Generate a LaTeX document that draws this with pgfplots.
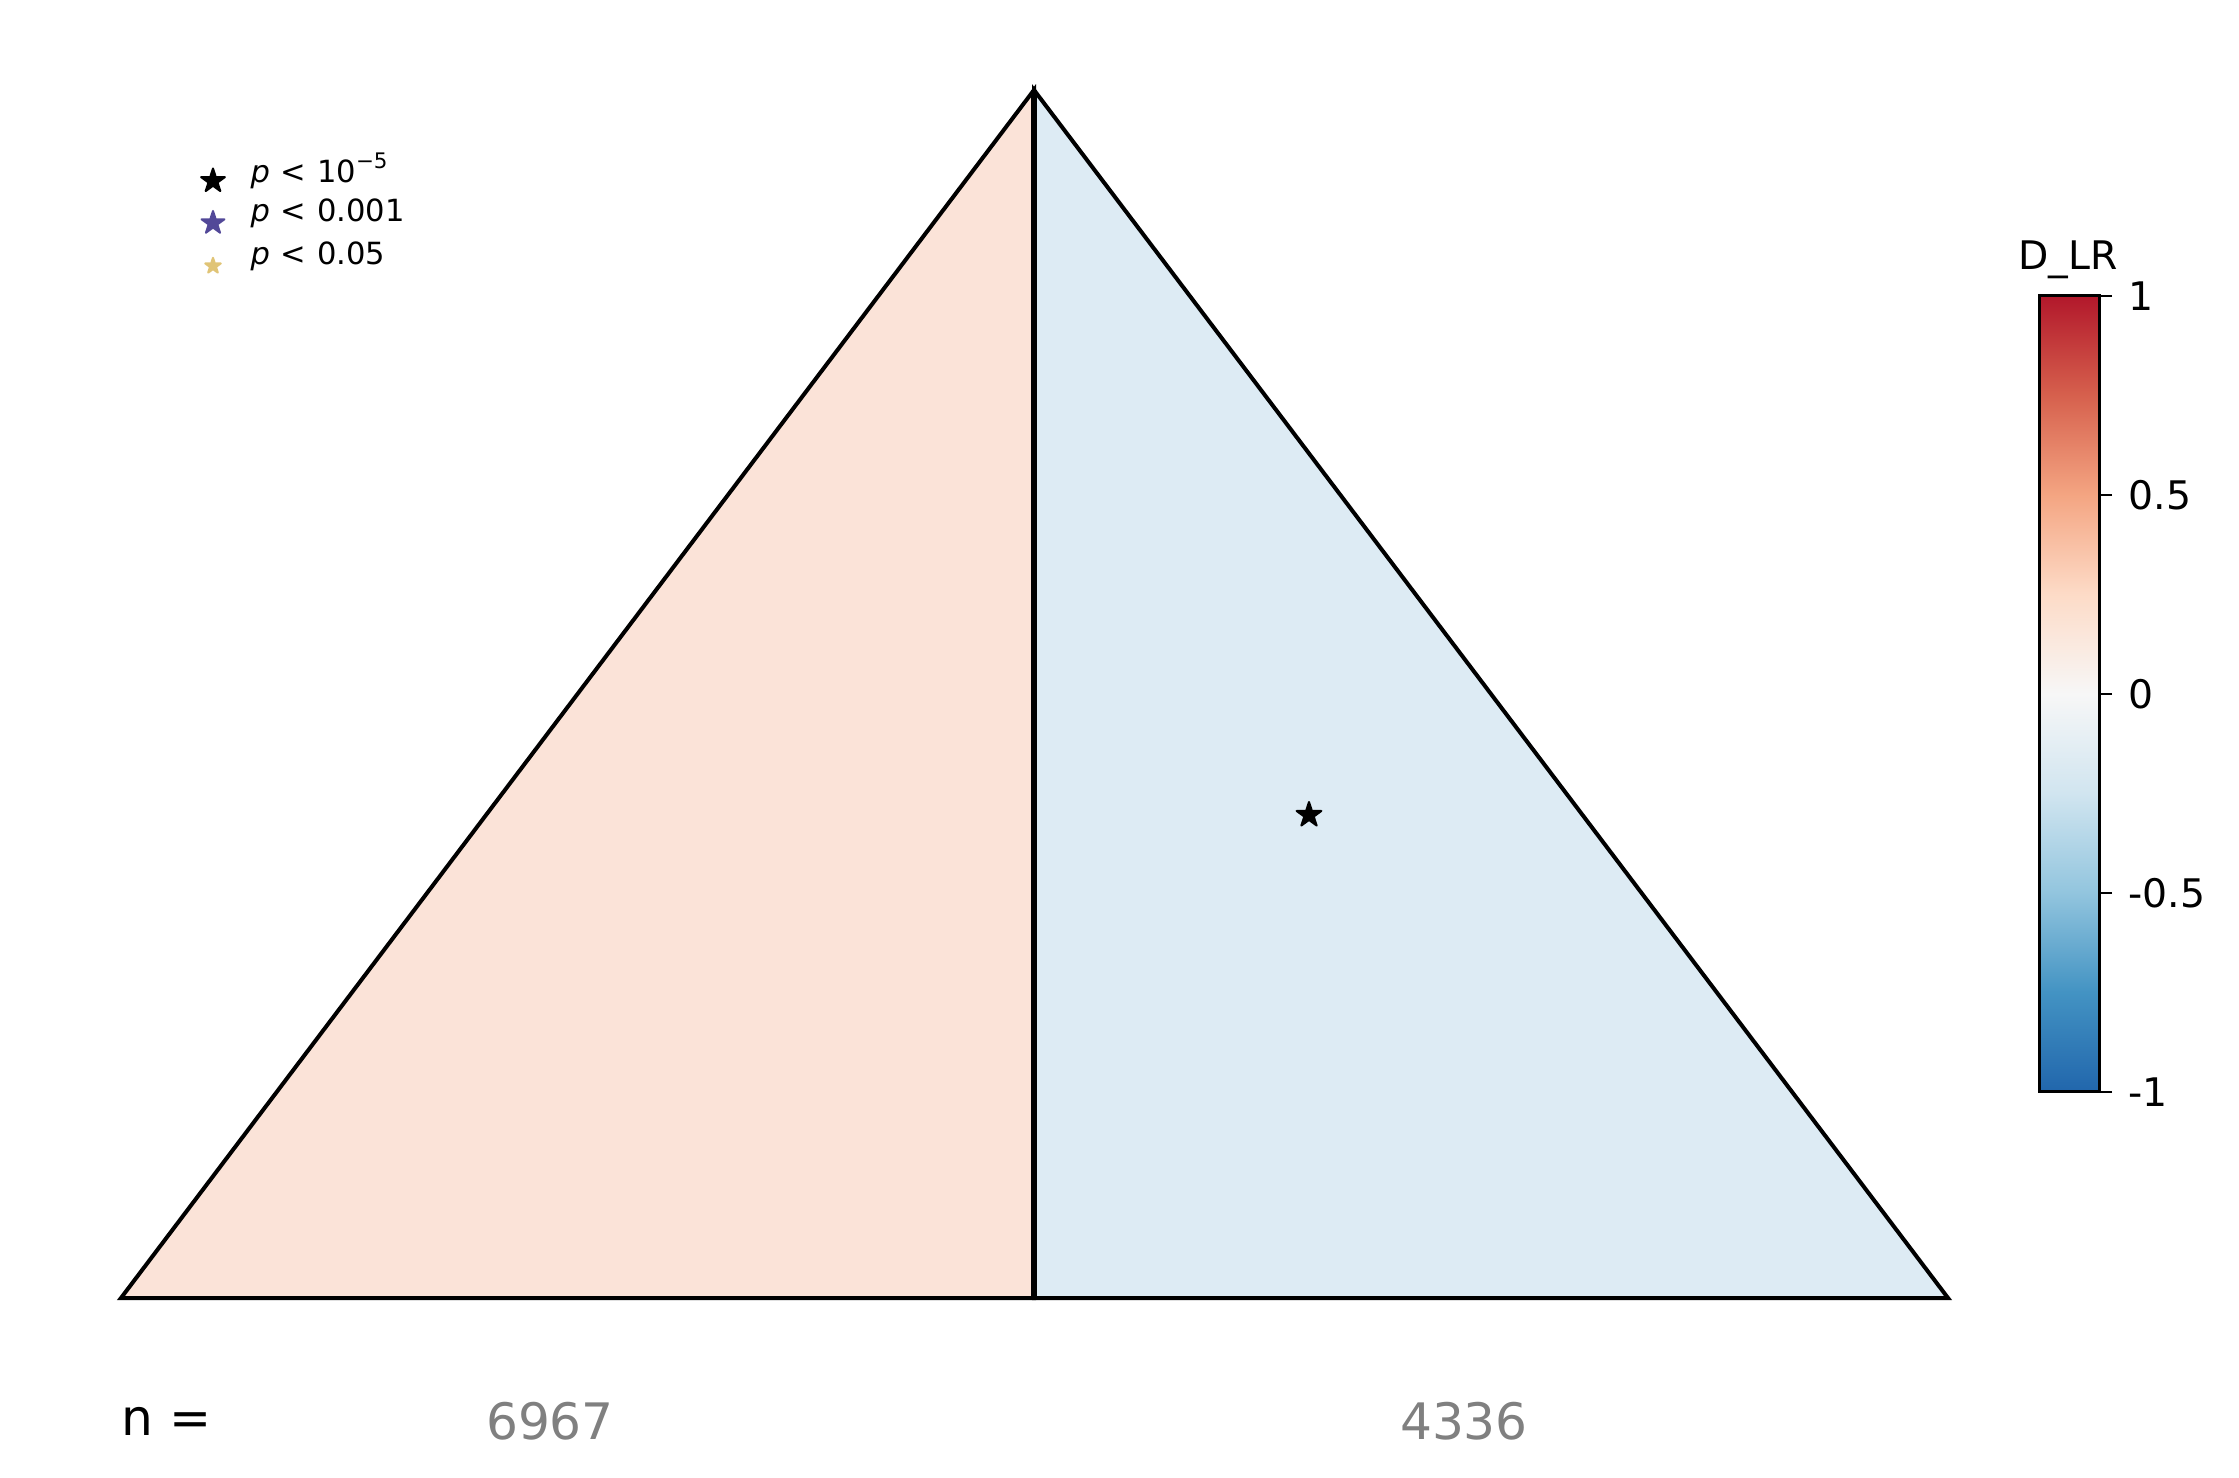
\documentclass[border=0pt]{standalone}
\usepackage{fontspec}
\setmainfont{DejaVu Sans}
\usepackage{pgfplots}
\pgfplotsset{compat=1.18}
\definecolor{leftfill}{RGB}{251,227,216}
\definecolor{rightfill}{RGB}{221,235,244}
\definecolor{pstar}{RGB}{82,72,152}
\definecolor{tstar}{RGB}{224,196,118}
\definecolor{ngray}{RGB}{128,128,128}
\pgfplotsset{colormap={rdbu}{rgb255=(33,102,172) rgb255=(67,147,195) rgb255=(146,197,222) rgb255=(209,229,240) rgb255=(247,247,247) rgb255=(253,219,199) rgb255=(244,165,130) rgb255=(214,96,77) rgb255=(178,24,43)}}
\pgfdeclareplotmark{fstar}{%
  \pgfpathmoveto{\pgfpointpolar{90}{\pgfplotmarksize}}%
  \pgfpathlineto{\pgfpointpolar{126}{0.382\pgfplotmarksize}}%
  \pgfpathlineto{\pgfpointpolar{162}{\pgfplotmarksize}}%
  \pgfpathlineto{\pgfpointpolar{198}{0.382\pgfplotmarksize}}%
  \pgfpathlineto{\pgfpointpolar{234}{\pgfplotmarksize}}%
  \pgfpathlineto{\pgfpointpolar{270}{0.382\pgfplotmarksize}}%
  \pgfpathlineto{\pgfpointpolar{306}{\pgfplotmarksize}}%
  \pgfpathlineto{\pgfpointpolar{342}{0.382\pgfplotmarksize}}%
  \pgfpathlineto{\pgfpointpolar{18}{\pgfplotmarksize}}%
  \pgfpathlineto{\pgfpointpolar{54}{0.382\pgfplotmarksize}}%
  \pgfpathclose\pgfusepathqfillstroke}
\newcommand{\legfont}{\fontsize{8.7}{10}\selectfont}
\begin{document}
\begin{tikzpicture}
\begin{axis}[at={(0,0)}, anchor=south west, scale only axis,
  width=22.39cm, height=14.78cm,
  xmin=0, xmax=2239, ymin=0, ymax=1478, y dir=reverse,
  hide axis, clip=false]
\path[draw=none] (rel axis cs:0,0) rectangle (rel axis cs:1,1);
% left region
\addplot[fill=leftfill, draw=black, line width=0.4mm, line join=miter] coordinates {(121,1298) (1034,90) (1034,1298)} -- cycle;
% right region
\addplot[fill=rightfill, draw=black, line width=0.4mm, line join=miter] coordinates {(1034,1298) (1034,90) (1948,1298)} -- cycle;
% dividing line
\addplot[draw=black, line width=0.6mm] coordinates {(1034,90) (1034,1298)};
% significance star
\addplot[only marks, mark=fstar, mark size=1.3mm, mark options={fill=black, draw=black, line width=0.2mm, line join=round}] coordinates {(1309,815)};
% legend stars
\addplot[only marks, mark=fstar, mark size=1.25mm, mark options={fill=black, draw=black, line width=0.2mm, line join=round}] coordinates {(213,181)};
\addplot[only marks, mark=fstar, mark size=1.2mm, mark options={fill=pstar, draw=pstar, line width=0.2mm, line join=round}] coordinates {(213,223)};
\addplot[only marks, mark=fstar, mark size=0.82mm, mark options={fill=tstar, draw=tstar, line width=0.2mm, line join=round}] coordinates {(213,266)};
\node[anchor=west, font=\legfont, inner sep=0pt] at (axis cs:250,171) {\textit{p}\hspace{0.35em}<\hspace{0.35em}10\textsuperscript{−5}};
\node[anchor=west, font=\legfont, inner sep=0pt] at (axis cs:250,213) {\textit{p}\hspace{0.35em}<\hspace{0.35em}0.001};
\node[anchor=west, font=\legfont, inner sep=0pt] at (axis cs:250,256) {\textit{p}\hspace{0.35em}<\hspace{0.35em}0.05};
% n labels
\node[anchor=west, font=\fontsize{14.3}{17}\selectfont, inner sep=0pt] at (axis cs:121,1421) {n =};
\node[font=\fontsize{14.3}{17}\selectfont, text=ngray, inner sep=0pt] at (axis cs:550,1421) {6967};
\node[font=\fontsize{14.3}{17}\selectfont, text=ngray, inner sep=0pt] at (axis cs:1464,1421) {4336};
% colorbar title
\node[font=\fontsize{11.2}{13}\selectfont, inner sep=0pt] at (axis cs:2068,260) {D\_LR};
\end{axis}
\begin{axis}[at={(20.39cm,3.86cm)}, anchor=south west, scale only axis,
  width=0.6cm, height=7.96cm, axis on top,
  xmin=0, xmax=1, ymin=-1, ymax=1, enlargelimits=false,
  xtick=\empty, ytick={-1,-0.5,0,0.5,1}, yticklabels={-1,-0.5,0,0.5,1},
  ytick pos=right, tick align=outside, major tick length=1.3mm,
  axis line style={line width=0.3mm}, tick style={black, line width=0.25mm},
  yticklabel style={font=\fontsize{11.2}{13}\selectfont, inner xsep=1.6mm},
  colormap name=rdbu, point meta min=-1, point meta max=1]
\addplot[surf, shader=interp, point meta=y, mesh/rows=9] coordinates {
(0,-1) (1,-1)

(0,-0.75) (1,-0.75)

(0,-0.5) (1,-0.5)

(0,-0.25) (1,-0.25)

(0,0) (1,0)

(0,0.25) (1,0.25)

(0,0.5) (1,0.5)

(0,0.75) (1,0.75)

(0,1) (1,1)
};
\end{axis}
\end{tikzpicture}
\end{document}
